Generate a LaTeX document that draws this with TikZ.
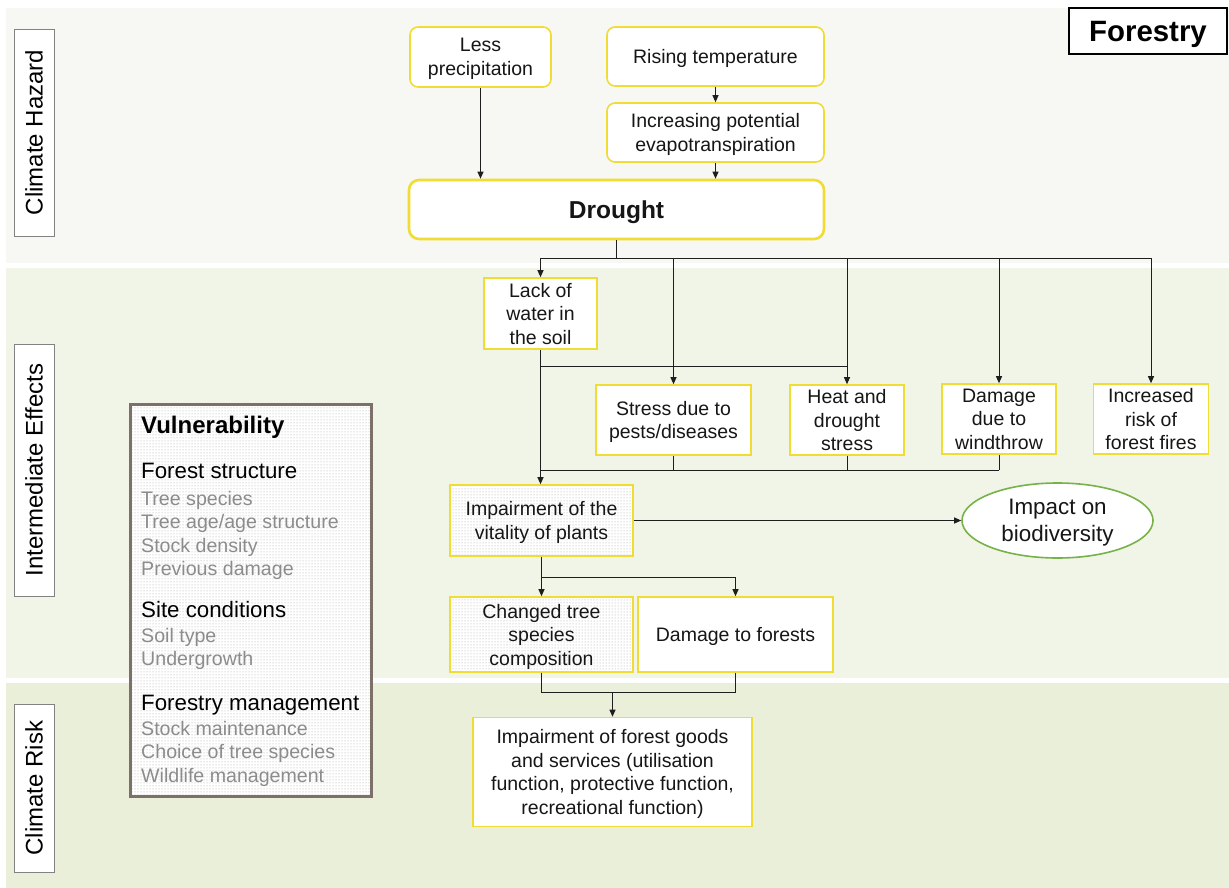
\documentclass[tikz,border=0pt]{standalone}
\usepackage{fontspec}
\setmainfont{Liberation Sans}
\usetikzlibrary{arrows.meta,patterns,shapes.geometric}

\definecolor{bandA}{RGB}{247,248,243}
\definecolor{bandB}{RGB}{241,245,231}
\definecolor{bandC}{RGB}{234,239,218}
\definecolor{ylw}{RGB}{240,220,50}
\definecolor{linec}{RGB}{30,30,30}
\definecolor{txt}{RGB}{22,22,22}
\definecolor{soft}{RGB}{140,140,140}
\definecolor{vframe}{RGB}{125,112,104}
\definecolor{leaf}{RGB}{118,178,72}
\definecolor{labframe}{RGB}{130,130,130}

\tikzset{
  nodefont/.style={font=\fontsize{19.5}{23.5}\selectfont, text=txt, text depth=0pt},
  hazbox/.style={nodefont, draw=ylw, line width=1.6pt, rounded corners=8pt,
    fill=white, align=center, inner sep=0pt},
  effbox/.style={nodefont, draw=ylw, line width=1.6pt, fill=white,
    align=center, inner sep=0pt},
  stipple/.style={preaction={fill=white}, pattern=dots, pattern color=black!35},
  sidelab/.style={draw=labframe, line width=0.8pt, fill=white, rotate=90,
    font=\fontsize{24}{28}\selectfont, text=black, inner sep=0pt,
    minimum height=40pt},
  link/.style={draw=linec, line width=1pt},
  arrowlink/.style={link, -{Triangle[length=7pt,width=6pt]}},
  vhead/.style={anchor=base west, inner sep=0pt, text=black,
    font=\fontsize{22.3}{26}\selectfont},
  vitem/.style={anchor=base west, inner sep=0pt, text=soft,
    font=\fontsize{19.6}{23}\selectfont},
}

\begin{document}
\begin{tikzpicture}[x=1pt,y=-1pt]
\useasboundingbox (0,0) rectangle (1229,888);
\fill[white] (0,0) rectangle (1229,888);

% horizontal bands
\fill[bandA] (6,8) rectangle (1229,263);
\fill[bandB] (6,268) rectangle (1229,678);
\fill[bandC] (6,683) rectangle (1229,888);

% band labels
\node[sidelab, minimum width=207pt] (labhaz) at (34,132.5) {Climate Hazard};
\node[sidelab, minimum width=252pt] (labeff) at (34,470) {Intermediate Effects};
\node[sidelab, minimum width=168pt] (labrisk) at (34,788) {Climate Risk};

% sector title
\node[draw=black, line width=2.6pt, fill=white, minimum width=158pt,
  minimum height=46pt, inner sep=0pt, text depth=0pt,
  font=\bfseries\fontsize{29.4}{32}\selectfont]
  (sector) at (1148,31) {Forestry};

% climate hazard
\node[hazbox, minimum width=141pt, minimum height=60pt] (less) at (480.5,57)
  {Less\\precipitation};
\node[hazbox, minimum width=217pt, minimum height=59pt] (rising) at (715.5,56.5)
  {Rising temperature};
\node[hazbox, minimum width=217pt, minimum height=59pt] (evapo) at (715.5,132.5)
  {Increasing potential\\evapotranspiration};
\node[hazbox, line width=2.6pt, rounded corners=10pt, minimum width=415pt,
  minimum height=59pt, font=\bfseries\fontsize{24.5}{28}\selectfont]
  (drought) at (616.5,209.5) {Drought};

% intermediate effects
\node[effbox, minimum width=113pt, minimum height=71pt] (lack) at (540.5,313.5)
  {Lack of\\water in\\the soil};
\node[effbox, minimum width=155pt, minimum height=70pt] (stress) at (673.5,420)
  {Stress due to\\pests/diseases};
\node[effbox, minimum width=114pt, minimum height=70pt] (heat) at (847,420)
  {Heat and\\drought\\stress};
\node[effbox, minimum width=114pt, minimum height=70pt] (wind) at (999,419)
  {Damage\\due to\\windthrow};
\node[effbox, minimum width=115pt, minimum height=70pt] (fires) at (1151,419)
  {Increased\\risk of\\forest fires};
\node[effbox, stipple, minimum width=183pt, minimum height=71pt] (vital)
  at (541.5,520.5) {Impairment of the\\vitality of plants};
\node[ellipse, draw=leaf, line width=1.6pt, fill=white, minimum width=191pt,
  minimum height=75pt, inner sep=0pt, align=center, text=txt, text depth=0pt,
  font=\fontsize{22.4}{27}\selectfont] (bio) at (1057.5,520.5)
  {Impact on\\biodiversity};
\node[effbox, stipple, minimum width=183pt, minimum height=75pt] (changed)
  at (541.5,634.5) {Changed tree\\species\\composition};
\node[effbox, minimum width=195pt, minimum height=75pt] (dmg) at (735.5,634.5)
  {Damage to forests};

% climate risk
\node[effbox, minimum width=279pt, minimum height=109pt] (goods) at (612.5,772)
  {Impairment of forest goods\\and services (utilisation\\function, protective function,\\recreational function)};

% vulnerability panel
\node[draw=vframe, line width=2.6pt, stipple, minimum width=241pt,
  minimum height=392pt, inner sep=0pt] (vuln) at (251,600.5) {};
\node[anchor=base west, inner sep=0pt, text=black,
  font=\bfseries\fontsize{24}{28}\selectfont] (vtitle) at (141,433) {Vulnerability};
\node[vhead] (vfs) at (141,478) {Forest structure};
\node[vitem] (v1) at (141,505) {Tree species};
\node[vitem] (v2) at (141,528) {Tree age/age structure};
\node[vitem] (v3) at (141,552) {Stock density};
\node[vitem] (v4) at (141,575) {Previous damage};
\node[vhead] (vsc) at (141,617) {Site conditions};
\node[vitem] (v5) at (141,642) {Soil type};
\node[vitem] (v6) at (141,665) {Undergrowth};
\node[vhead] (vfm) at (141,710) {Forestry management};
\node[vitem] (v7) at (141,735) {Stock maintenance};
\node[vitem] (v8) at (141,758) {Choice of tree species};
\node[vitem] (v9) at (141,782) {Wildlife management};

% hazard connectors
\draw[arrowlink] (less.south) -- (less.south |- drought.north);
\draw[arrowlink] (rising.south) -- (evapo.north);
\draw[arrowlink] (evapo.south) -- (evapo.south |- drought.north);

% drought fans out to the effects
\coordinate (split) at (616.5,258);
\draw[link] (drought.south) -- (split);
\draw[link] (lack.north |- split) -- (fires.north |- split);
\foreach \n in {lack,stress,heat,wind,fires}
  \draw[arrowlink] (\n.north |- split) -- (\n.north);

% soil water feeds pests and heat stress
\coordinate (lsplit) at (540.5,366);
\draw[link] (lsplit) -- (heat.north |- lsplit);
\draw[arrowlink] (lack.south) -- (lack.south |- vital.north);

% effects merge towards plant vitality
\coordinate (merge) at (540.5,470);
\draw[link] (merge) -- (wind.south |- merge);
\foreach \n in {stress,heat,wind}
  \draw[link] (\n.south) -- (\n.south |- merge);

\draw[arrowlink] (vital.east) -- (bio.west);
\draw[arrowlink] (vital.south) -- (changed.north);
\coordinate (vsplit) at (541.5,577);
\draw[arrowlink] (vsplit) -| (dmg.north);

% towards forest goods and services
\coordinate (join) at (612.5,692);
\draw[link] (changed.south) |- (dmg.south |- join) -- (dmg.south);
\draw[arrowlink] (join) -- (goods.north);
\end{tikzpicture}
\end{document}
